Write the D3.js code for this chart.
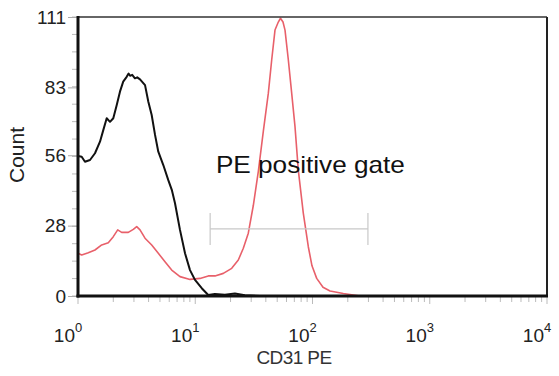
<!DOCTYPE html>
<html>
<head>
<meta charset="utf-8">
<script src="https://cdn.jsdelivr.net/npm/d3@7"></script>
<style>
  html, body { margin: 0; padding: 0; background: #fff; }
  svg { display: block; font-family: "Liberation Sans", Arial, sans-serif; }
</style>
</head>
<body>
<svg id="chart" width="559" height="376"></svg>
<script>
// ---- data ----
const yTicks = [0, 28, 56, 83, 111];
const xDecades = [1, 10, 100, 1000, 10000];
const xTickExponents = ["0", "1", "2", "3", "4"];

const blackX = [1.000, 1.075, 1.147, 1.266, 1.396, 1.540, 1.643, 1.757, 1.875, 2.000, 2.14, 2.28, 2.43, 2.60, 2.70, 2.78, 2.90, 3.06, 3.20, 3.38, 3.73, 3.98, 4.25, 4.54, 4.84, 5.34, 5.89, 6.33, 6.72, 7.41, 8.18, 9.02, 9.95, 11.36, 12.9, 14.7, 17.9, 21.8, 26.5, 35.7];
const blackY = [55.7, 55.4, 53.4, 54.1, 56.8, 61.4, 66.0, 70.7, 69.3, 70.7, 76.0, 81.3, 85.3, 87.2, 88.5, 87.6, 88.0, 86.6, 87.0, 86.2, 83.9, 77.3, 72.0, 64.1, 57.4, 52.1, 46.1, 42.0, 36.9, 26.3, 17.0, 10.3, 6.4, 3.1, 0.4, 0.8, 0.5, 1.0, 0.3, 0];

const redX = [1.000, 1.075, 1.224, 1.396, 1.593, 1.813, 2.000, 2.181, 2.359, 2.685, 2.962, 3.167, 3.380, 3.728, 4.252, 4.840, 5.521, 6.298, 7.411, 9.02, 10.98, 12.92, 14.74, 17.35, 20.46, 23.29, 25.70, 28.34, 31.27, 34.49, 38.06, 41.98, 44.87, 47.88, 51.10, 53.33, 56.03, 58.29, 62.19, 66.47, 70.92, 75.67, 83.46, 92.1, 99.0, 108.6, 122.9, 141.1, 183.1, 254.2];
const redY = [17.0, 16.3, 17.2, 18.3, 20.3, 21.2, 23.6, 26.3, 25.3, 25.3, 26.5, 27.6, 26.3, 23.0, 20.3, 17.0, 13.6, 10.3, 7.7, 6.6, 7.0, 8.0, 8.0, 9.0, 11.0, 14.3, 19.0, 25.0, 36.0, 49.5, 65.5, 80.6, 93.9, 105.8, 109.0, 110.5, 109.0, 105.8, 94.0, 80.6, 67.4, 50.1, 33.0, 19.6, 12.0, 7.0, 3.5, 2.0, 1.0, 0];

const gateRange = [13.4, 297];
const gateLevel = 26.7;
const gateLabel = "PE positive gate";
const gateLabelPos = [15.0, 49];
const xTitle = "CD31 PE";
const yTitle = "Count";

// ---- layout ----
const mLeft = 78, mRight = 547, mTop = 17, mBottom = 296;
const svg = d3.select("#chart");

const x = d3.scaleLog().domain([1, 10000]).range([mLeft, mRight]);
const y = d3.scaleLinear().domain([0, 111]).range([mBottom, mTop]);

// minor y ticks
const yMinor = d3.range(0, 17).map(i => i * 111 / 16);
svg.append("g").selectAll("line").data(yMinor).join("line")
  .attr("x1", mLeft - 6).attr("x2", mLeft).attr("y1", d => y(d)).attr("y2", d => y(d))
  .attr("stroke", "#bbb").attr("stroke-width", 1);

// y axis with major ticks
const yAxis = d3.axisLeft(y).tickValues(yTicks).tickSize(10).tickPadding(2).tickFormat(d3.format("d"));
const gy = svg.append("g").attr("transform", `translate(${mLeft},0)`).call(yAxis);
gy.select(".domain").remove();
gy.selectAll(".tick line").attr("stroke", "#aaa");
gy.selectAll(".tick text").attr("font-size", 19).attr("fill", "#222")
  .attr("font-family", "Liberation Sans, Arial, sans-serif");

// x minor ticks
const xMinor = [];
for (let dec = 1; dec < 10000; dec *= 10) for (let k = 2; k <= 9; k++) xMinor.push(dec * k);
svg.append("g").selectAll("line").data(xMinor).join("line")
  .attr("x1", d => x(d)).attr("x2", d => x(d)).attr("y1", mBottom).attr("y2", mBottom + 6)
  .attr("stroke", "#bbb").attr("stroke-width", 1);
svg.append("g").selectAll("line").data(xDecades).join("line")
  .attr("x1", d => x(d)).attr("x2", d => x(d)).attr("y1", mBottom).attr("y2", mBottom + 8)
  .attr("stroke", "#bbb").attr("stroke-width", 1);

// x tick labels (10 with superscript), sitting just left of each tick
const xl = svg.append("g").selectAll("text").data(xDecades).join("text")
  .attr("x", d => x(d) - 10).attr("y", 342)
  .attr("text-anchor", "middle").attr("font-size", 19).attr("fill", "#222");
xl.append("tspan").text("10");
xl.append("tspan").attr("dy", -10).attr("font-size", 13).text((d, i) => xTickExponents[i]);

// curves
const line = d3.line().x(d => x(d[0])).y(d => y(d[1]));
svg.append("path").datum(redX.map((v, i) => [v, redY[i]]))
  .attr("d", line).attr("fill", "none").attr("stroke", "#e8606a").attr("stroke-width", 1.6)
  .attr("stroke-linejoin", "round");
svg.append("path").datum(blackX.map((v, i) => [v, blackY[i]]))
  .attr("d", line).attr("fill", "none").attr("stroke", "#111").attr("stroke-width", 2)
  .attr("stroke-linejoin", "round");

// gate marker
const gy0 = y(gateLevel);
const gate = svg.append("g").attr("stroke", "#c8c8c8").attr("stroke-width", 1.2);
gate.append("line").attr("x1", x(gateRange[0])).attr("x2", x(gateRange[1])).attr("y1", gy0).attr("y2", gy0);
gateRange.forEach(v => gate.append("line").attr("x1", x(v)).attr("x2", x(v)).attr("y1", gy0 - 16).attr("y2", gy0 + 16));
svg.append("text").attr("x", x(gateLabelPos[0])).attr("y", y(gateLabelPos[1]))
  .attr("font-size", 24).attr("fill", "#111").attr("textLength", 189).attr("lengthAdjust", "spacingAndGlyphs")
  .text(gateLabel);

// frame
svg.append("line").attr("x1", mLeft).attr("x2", mRight).attr("y1", mTop).attr("y2", mTop).attr("stroke", "#333").attr("stroke-width", 1.5);
svg.append("line").attr("x1", mRight).attr("x2", mRight).attr("y1", mTop).attr("y2", mBottom).attr("stroke", "#222").attr("stroke-width", 2);
svg.append("line").attr("x1", mLeft).attr("x2", mLeft).attr("y1", mTop - 1).attr("y2", mBottom + 1.5).attr("stroke", "#111").attr("stroke-width", 3);
svg.append("line").attr("x1", mLeft - 1.5).attr("x2", mRight + 1).attr("y1", mBottom).attr("y2", mBottom).attr("stroke", "#111").attr("stroke-width", 3);

// titles
svg.append("text").attr("x", 294).attr("y", 364).attr("text-anchor", "middle")
  .attr("font-size", 19).attr("fill", "#333").attr("letter-spacing", -0.6).text(xTitle);
svg.append("text").attr("transform", "translate(24,155) rotate(-90)").attr("text-anchor", "middle")
  .attr("font-size", 21).attr("fill", "#222").text(yTitle);
</script>
</body>
</html>
